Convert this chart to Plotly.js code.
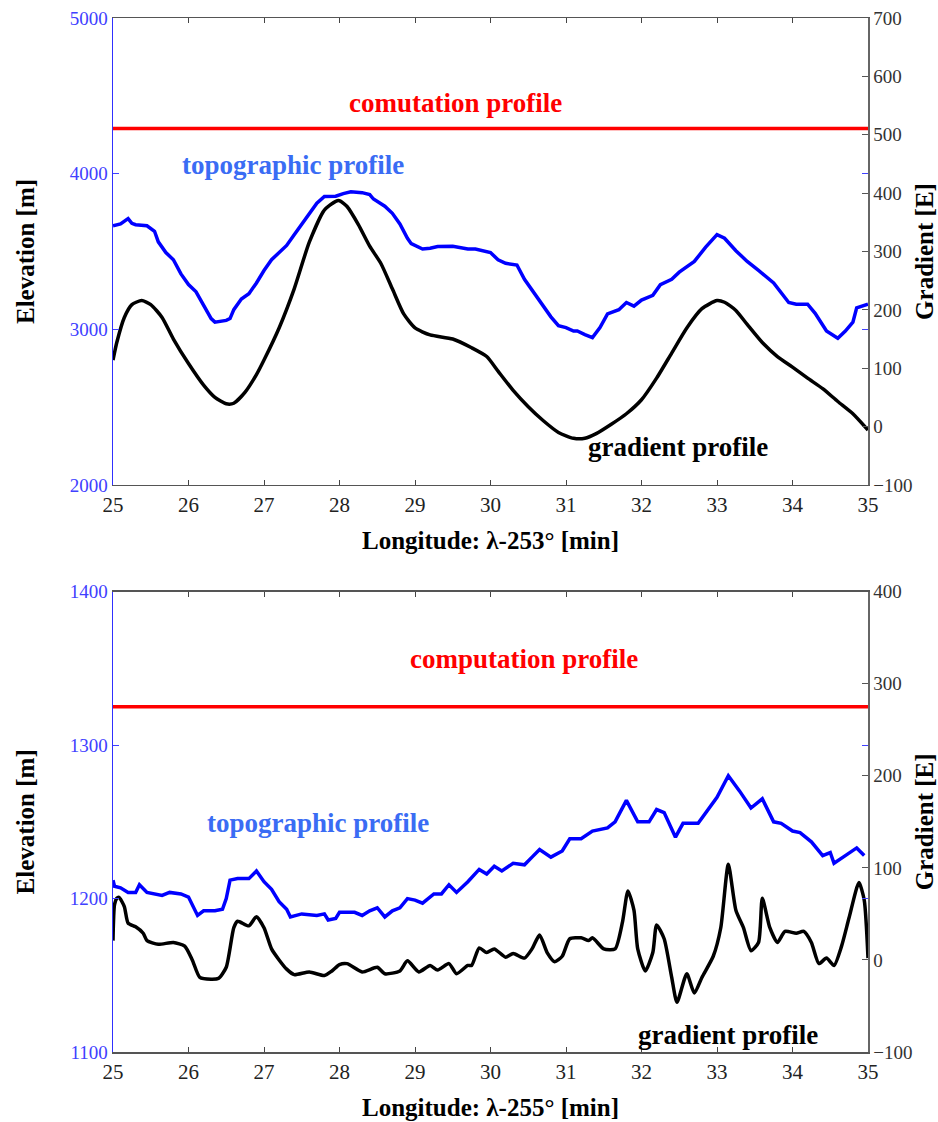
<!DOCTYPE html>
<html><head><meta charset="utf-8">
<script src="https://cdn.plot.ly/plotly-3.0.1.min.js"></script>
<style>body{margin:0;background:#fff}#plot{width:938px;height:1122px}</style>
</head><body><div id="plot"></div>
<script>
// ---- Top panel (λ-253°) ----
const topoX1 = [25.0,25.1,25.2,25.25,25.3,25.45,25.55,25.6,25.7,25.8,25.9,26.0,26.1,26.2,26.3,26.35,26.5,26.55,26.6,26.7,26.8,26.9,27.0,27.1,27.2,27.3,27.4,27.5,27.6,27.7,27.8,27.95,28.05,28.15,28.3,28.4,28.45,28.6,28.7,28.8,28.9,28.95,29.1,29.2,29.3,29.5,29.7,29.8,30.0,30.1,30.2,30.35,30.45,30.55,30.7,30.8,30.9,31.0,31.1,31.15,31.25,31.35,31.45,31.55,31.7,31.8,31.9,32.0,32.15,32.25,32.4,32.5,32.7,32.85,33.0,33.1,33.25,33.4,33.55,33.75,33.95,34.05,34.2,34.3,34.45,34.6,34.7,34.8,34.85,34.95,35.0];
const topoY1 = [3665,3677,3711,3681,3672,3665,3630,3562,3493,3447,3356,3287,3241,3151,3069,3046,3057,3069,3126,3195,3229,3298,3378,3447,3493,3539,3608,3677,3745,3810,3853,3855,3872,3883,3878,3865,3837,3791,3745,3677,3585,3550,3516,3521,3532,3534,3516,3516,3493,3447,3424,3413,3321,3252,3149,3080,3023,3011,2989,2989,2966,2947,3011,3099,3126,3172,3149,3188,3218,3287,3321,3367,3436,3528,3608,3585,3505,3436,3378,3298,3172,3161,3161,3103,2989,2943,2989,3046,3138,3154,3161];
const gradX1 = [25.0,25.05,25.15,25.25,25.38,25.5,25.65,25.8,26.0,26.2,26.35,26.5,26.6,26.75,26.9,27.0,27.2,27.4,27.6,27.8,27.95,28.0,28.1,28.25,28.4,28.55,28.7,28.85,29.0,29.2,29.5,29.75,29.95,30.1,30.3,30.5,30.7,30.9,31.1,31.25,31.4,31.6,31.8,32.0,32.2,32.4,32.6,32.8,33.0,33.1,33.25,33.4,33.6,33.8,34.0,34.2,34.4,34.6,34.8,35.0];
const gradY1 = [114,144,187,209,216,209,187,150,108,71,50,39,40,59,89,114,169,236,316,371,386,387,377,346,309,279,236,193,169,157,150,135,120,95,62,34,10,-10,-20,-20,-12,4,22,46,83,126,169,202,216,213,199,175,144,120,102,83,65,43,22,-6];
const compX1 = [25, 35];
const compY1 = [4290, 4290];

// ---- Bottom panel (λ-255°) ----
const topoX2 = [25.0,25.02,25.1,25.2,25.3,25.35,25.45,25.55,25.65,25.75,25.9,26.0,26.07,26.12,26.2,26.35,26.45,26.5,26.55,26.65,26.8,26.9,27.0,27.1,27.2,27.3,27.35,27.5,27.7,27.8,27.85,27.95,28.0,28.2,28.3,28.4,28.5,28.6,28.7,28.8,28.9,29.0,29.1,29.25,29.35,29.45,29.55,29.7,29.85,29.95,30.05,30.15,30.3,30.45,30.55,30.65,30.8,30.95,31.05,31.2,31.35,31.55,31.65,31.8,31.95,32.1,32.2,32.3,32.45,32.55,32.75,32.85,33.0,33.15,33.3,33.45,33.6,33.75,33.85,34.0,34.1,34.25,34.4,34.5,34.55,34.7,34.85,34.95];
const topoY2 = [1212,1208,1207,1204,1204,1209,1204,1203,1202,1204,1203,1201,1194,1189,1192,1192,1193,1200,1212,1213,1213,1218,1211,1206,1198,1193,1188,1190,1189,1190,1186,1187,1191,1191,1189,1192,1194,1188,1192,1194,1200,1199,1197,1203,1203,1209,1204,1211,1219,1216,1221,1218,1223,1222,1227,1232,1227,1231,1239,1239,1244,1246,1250,1264,1250,1250,1258,1256,1240,1249,1249,1256,1266,1280,1270,1259,1265,1250,1249,1244,1243,1237,1228,1230,1223,1228,1233,1228];
const gradX2 = [25.0,25.02,25.05,25.08,25.15,25.2,25.3,25.4,25.45,25.6,25.8,25.95,26.05,26.15,26.3,26.4,26.5,26.6,26.65,26.8,26.9,27.0,27.1,27.2,27.3,27.4,27.6,27.8,27.9,28.0,28.1,28.3,28.5,28.6,28.8,28.9,29.05,29.2,29.3,29.45,29.55,29.7,29.75,29.85,29.95,30.05,30.2,30.3,30.45,30.55,30.65,30.75,30.85,30.95,31.05,31.2,31.3,31.35,31.5,31.65,31.75,31.82,31.9,31.95,32.05,32.15,32.2,32.3,32.4,32.47,32.6,32.7,32.8,32.95,33.05,33.15,33.25,33.35,33.45,33.55,33.6,33.7,33.8,33.9,34.05,34.15,34.25,34.35,34.45,34.55,34.65,34.75,34.88,34.95,35.0];
const gradY2 = [21,60,67,68,58,40,36,29,21,17,19,15,0,-19,-21,-20,-8,35,42,37,47,35,12,0,-10,-16,-13,-17,-12,-5,-4,-13,-8,-15,-12,-1,-13,-6,-11,-4,-15,-6,-6,13,8,12,3,7,2,12,27,8,-2,4,23,24,21,24,12,12,42,75,54,12,-12,8,38,23,-19,-46,-15,-36,-19,4,35,104,54,35,10,19,67,35,19,31,29,31,19,-4,2,-6,15,46,84,65,2];
const compX2 = [25, 35];
const compY2 = [1325, 1325];

const xTicks = [25,26,27,28,29,30,31,32,33,34,35];

const serif = "Liberation Serif, Times New Roman, serif";
const leftBlue = "#4040ff";

const traces = [
  {x: compX1, y: compY1, xaxis:'x', yaxis:'y', mode:'lines', line:{color:'#ff0000', width:3.5}},
  {x: topoX1, y: topoY1, xaxis:'x', yaxis:'y', mode:'lines', line:{color:'#0000ff', width:3.5}},
  {x: gradX1, y: gradY1, xaxis:'x', yaxis:'y2', mode:'lines', line:{color:'#000000', width:3.5, shape:'spline', smoothing:0.6}},
  {x: compX2, y: compY2, xaxis:'x2', yaxis:'y3', mode:'lines', line:{color:'#ff0000', width:3.5}},
  {x: topoX2, y: topoY2, xaxis:'x2', yaxis:'y3', mode:'lines', line:{color:'#0000ff', width:3.5}},
  {x: gradX2, y: gradY2, xaxis:'x2', yaxis:'y4', mode:'lines', line:{color:'#000000', width:3.5, shape:'spline', smoothing:0.6}}
];

function xax(anchor, label){
  return {domain:[0,1], anchor:anchor, range:[25,35], tickvals:xTicks, ticks:'inside', ticklen:5,
    tickcolor:'#444', showline:true, linecolor:'#555', linewidth:1.5, mirror:'ticks', showgrid:false, zeroline:false,
    tickfont:{family:serif, size:21, color:'#222'},
    title:{text:label, font:{family:serif, size:25, color:'#000', weight:'bold'}, standoff:16}};
}
function yl(dom, range, dtick, label){
  return {domain:dom, anchor:'x', range:range, dtick:dtick, ticks:'inside', ticklen:6, tickcolor:leftBlue,
    showline:true, linecolor:'#3030ff', linewidth:1.5, mirror:'ticks', showgrid:false, zeroline:false,
    tickfont:{family:serif, size:19, color:leftBlue},
    title:{text:label, font:{family:serif, size:25, color:'#000', weight:'bold'}, standoff:28}};
}
function yr(over, anchor, range, label){
  return {overlaying:over, anchor:anchor, side:'right', range:range, dtick:100, ticks:'inside', ticklen:6,
    tickcolor:'#555', showline:true, linecolor:'#666', linewidth:1.5, showgrid:false, zeroline:false,
    tickfont:{family:serif, size:19, color:'#333'},
    title:{text:label, font:{family:serif, size:25, color:'#000', weight:'bold'}, standoff:4}};
}

const ann = (x, y, xref, yref, text, color) => ({x:x, y:y, xref:xref, yref:yref, text:text, showarrow:false,
  xanchor:'center', yanchor:'middle',
  font:{family:serif, size:27, color:color, weight:'bold'}});

const layout = {
  width:938, height:1122, showlegend:false,
  paper_bgcolor:'#fff', plot_bgcolor:'#fff',
  margin:{l:113, r:70, t:18, b:70},
  xaxis: xax('y', 'Longitude: λ-253° [min]'),
  yaxis: yl([0.5484,1], [2000,5000], 1000, 'Elevation [m]'),
  yaxis2: yr('y', 'x', [-100,700], 'Gradient [E]'),
  xaxis2: xax('y3', 'Longitude: λ-255° [min]'),
  yaxis3: Object.assign(yl([0,0.4452], [1100,1400], 100, 'Elevation [m]'), {anchor:'x2'}),
  yaxis4: yr('y3', 'x2', [-100,400], 'Gradient [E]'),
  annotations: [
    ann(29.53, 0.819, 'x', 'y domain', 'comutation profile', '#ff0000'),
    ann(27.38, 0.686, 'x', 'y domain', 'topographic profile', '#3a6cf4'),
    ann(32.48, 0.0815, 'x', 'y domain', 'gradient profile', '#000000'),
    ann(30.44, 0.854, 'x2', 'y3 domain', 'computation profile', '#ff0000'),
    ann(27.72, 0.4975, 'x2', 'y3 domain', 'topographic profile', '#3a6cf4'),
    ann(33.15, 0.037, 'x2', 'y3 domain', 'gradient profile', '#000000')
  ]
};

Plotly.newPlot('plot', traces, layout, {displayModeBar:false, staticPlot:true});
</script></body></html>
